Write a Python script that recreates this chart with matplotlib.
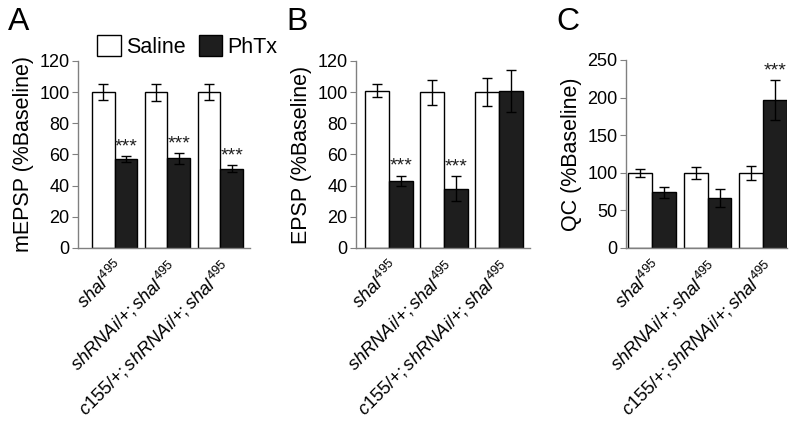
import matplotlib
matplotlib.use("Agg")
import matplotlib.pyplot as plt
from matplotlib.patches import Rectangle

plt.rcParams['font.family'] = ['Liberation Sans', 'DejaVu Sans']
plt.rcParams['mathtext.fontset'] = 'custom'
plt.rcParams['mathtext.rm'] = 'Liberation Sans'
plt.rcParams['mathtext.it'] = 'Liberation Sans:italic'
plt.rcParams['mathtext.bf'] = 'Liberation Sans:bold'

genotypes = [r"$\it{shal}^{495}$", r"$\it{shRNAi/{+};shal}^{495}$",
             r"$\it{c155/{+};shRNAi/{+};shal}^{495}$"]

# Panel A: mEPSP
a_saline = [100, 100, 100]
a_saline_err = [5, 5.5, 5]
a_phtx = [57, 57.5, 51]
a_phtx_err = [2, 3.5, 2]
a_sig = ["***", "***", "***"]

# Panel B: EPSP
b_saline = [101, 100, 100]
b_saline_err = [4, 8, 9]
b_phtx = [43, 38, 101]
b_phtx_err = [3.5, 8, 13.5]
b_sig = ["***", "***", ""]

# Panel C: QC
c_saline = [100, 100, 100]
c_saline_err = [5, 8, 9]
c_phtx = [74, 66, 197]
c_phtx_err = [7.5, 12, 26.5]
c_sig = ["", "", "***"]

W, H = 800, 433
fig = plt.figure(figsize=(8, 4.33), dpi=100)

def ax_px(left, right, top, bottom):
    return fig.add_axes([left / W, (H - bottom) / H, (right - left) / W, (bottom - top) / H])

bw = 0.43
spine_col = '#808080'

def panel(ax, sal, sal_e, ph, ph_e, sig, ymax, ystep, ylabel, xlim, letter, lx):
    x = range(len(sal))
    xs = [i - bw / 2 for i in x]
    xp = [i + bw / 2 for i in x]
    ax.bar(xs, sal, width=bw, color='white', edgecolor='black', linewidth=1.0, zorder=2)
    ax.bar(xp, ph, width=bw, color='#1e1e1e', edgecolor='black', linewidth=1.0, zorder=2)
    ax.errorbar(xs, sal, yerr=sal_e, fmt='none', ecolor='black', elinewidth=1.0, capsize=3.5, capthick=1.0, zorder=3)
    ax.errorbar(xp, ph, yerr=ph_e, fmt='none', ecolor='black', elinewidth=1.0, capsize=3.5, capthick=1.0, zorder=3)
    for xi, v, e, s in zip(xp, ph, ph_e, sig):
        if s:
            ax.text(xi, v + e + ymax * 0.005, s, ha='center', va='bottom', fontsize=14, color='#202020')
    ax.set_ylim(0, ymax)
    ax.set_yticks(range(0, ymax + 1, ystep))
    ax.set_xlim(*xlim)
    ax.set_xticks(list(x))
    ax.set_xticklabels(genotypes, rotation=45, ha='right', rotation_mode='anchor', fontsize=13.2)
    ax.tick_params(axis='x', length=0, pad=7)
    ax.tick_params(axis='y', labelsize=13, length=4, color=spine_col, pad=2)
    for s in ['top', 'right']:
        ax.spines[s].set_visible(False)
    for s in ['left', 'bottom']:
        ax.spines[s].set_color(spine_col)
        ax.spines[s].set_linewidth(1.0)
    ax.set_ylabel(ylabel, fontsize=15.5, labelpad=4)
    fig.text(lx / W, 1 - 22 / H, letter, fontsize=23, ha='left', va='center')

axA = ax_px(78, 250, 61, 248)
panel(axA, a_saline, a_saline_err, a_phtx, a_phtx_err, a_sig, 120, 20,
      "mEPSP (%Baseline)", (-0.69, 2.56), "A", 8)
axB = ax_px(356, 530, 61, 248)
panel(axB, b_saline, b_saline_err, b_phtx, b_phtx_err, b_sig, 120, 20,
      "EPSP (%Baseline)", (-0.6, 2.56), "B", 286)
axC = ax_px(626, 787, 60, 248)
panel(axC, c_saline, c_saline_err, c_phtx, c_phtx_err, c_sig, 250, 50,
      "QC (%Baseline)", (-0.47, 2.43), "C", 556)

# legend in panel A
axA.legend(handles=[Rectangle((0, 0), 1, 1, facecolor='white', edgecolor='black'),
                    Rectangle((0, 0), 1, 1, facecolor='#1e1e1e', edgecolor='black')],
           labels=['Saline', 'PhTx'], loc='lower left', bbox_to_anchor=(0.06, 0.97),
           ncol=2, frameon=False, fontsize=15.5, handlelength=1.1, handleheight=1.1,
           handletextpad=0.25, columnspacing=0.6, borderaxespad=0)

fig.savefig("out.png", dpi=100)
